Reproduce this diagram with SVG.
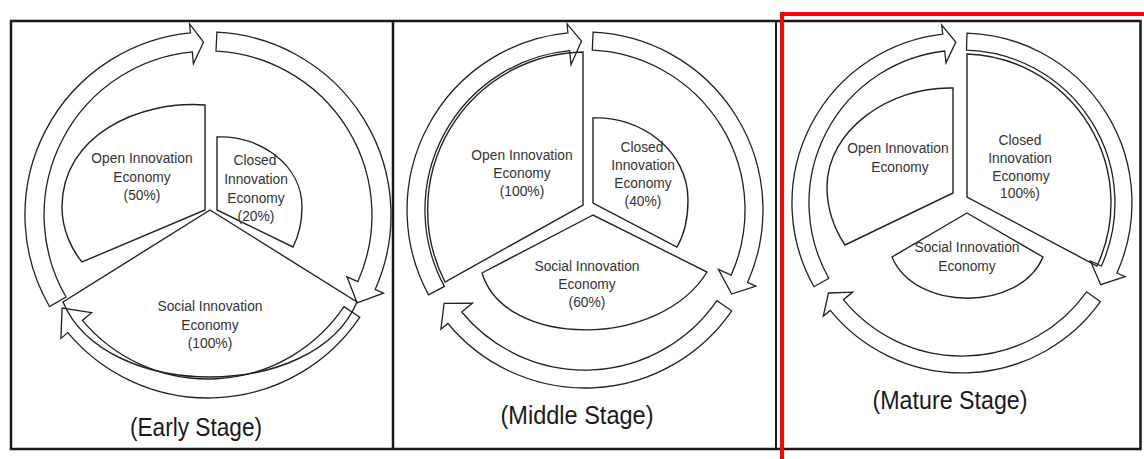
<svg xmlns="http://www.w3.org/2000/svg" width="1144" height="459" viewBox="0 0 1144 459">
<style>
.frame{fill:none;stroke:#1a1a1a;stroke-width:2.5}
.arrow{fill:#fff;stroke:#222;stroke-width:1.3;stroke-linejoin:miter}
.sector{fill:none;stroke:#222;stroke-width:1.4;stroke-linejoin:miter}
.lbl{font-family:"Liberation Sans",Arial,sans-serif;font-size:13.8px;fill:#333;text-anchor:middle}
.stage{font-family:"Liberation Sans",Arial,sans-serif;font-size:25px;fill:#1a1a1a;text-anchor:middle}
</style>
<rect width="1144" height="459" fill="#fff"/>
<g id="frames">
<rect class="frame" x="11" y="21" width="1129.5" height="428"/>
<line class="frame" x1="393" y1="21" x2="393" y2="449"/>
<line class="frame" x1="776" y1="21" x2="776" y2="449" style="stroke-width:2"/>
</g>
<g id="connectors">
<path class="arrow" d="M 49.5,306.5 A 183 183 0 0 1 190.5,32.8 L 189.6,23.9 L 203.5,42.1 L 193.4,63.7 L 192.3,51.8 A 164 164 0 0 0 66,297 Z"/>
<path class="arrow" d="M 216.9,32.2 A 183 183 0 0 1 375.2,289.4 L 383.4,293.1 L 357.1,302.8 L 346.9,276.8 L 357.8,281.7 A 164 164 0 0 0 216,51.2 Z"/>
<path class="arrow" d="M 359.7,317.3 A 183 183 0 0 1 67.8,332.6 L 60.9,338.4 L 62.1,308 L 91.6,312.7 L 82.4,320.4 A 164 164 0 0 0 344,306.7 Z"/>
<path class="arrow" d="M 428.6,294.9 A 178 178 0 0 1 567.9,32.8 L 567.1,23.9 L 581.5,41 L 571,64.7 L 569.7,50.7 A 160 160 0 0 0 444.4,286.4 Z"/>
<path class="arrow" d="M 593.1,32.2 A 178 178 0 0 1 747.6,282.4 L 755.8,286.1 L 731.7,294 L 718.4,269.4 L 731.2,275.1 A 160 160 0 0 0 592.3,50.2 Z"/>
<path class="arrow" d="M 731.7,310.8 A 178 178 0 0 1 447.9,323.5 L 440.9,329.2 L 444.1,303.3 L 472.5,303.1 L 461.7,312 A 160 160 0 0 0 716.9,300.6 Z"/>
<path class="arrow" d="M 814,286.7 A 170 170 0 0 1 942.8,34.1 L 941.7,25.1 L 955.8,42.1 L 946,62.9 L 944.7,51 A 153 153 0 0 0 828.8,278.3 Z"/>
<path class="arrow" d="M 967,33.1 A 170 170 0 0 1 1116.9,273 L 1125.1,276.7 L 1100.7,284.7 L 1090.5,261 L 1101.4,266 A 153 153 0 0 0 966.5,50.1 Z"/>
<path class="arrow" d="M 1100.4,301.7 A 170 170 0 0 1 830.3,310.4 L 823.3,316.1 L 828.5,293 L 852.7,292.1 L 843.4,299.7 A 153 153 0 0 0 1086.6,291.8 Z"/>
</g>
<g id="early-open">
<path class="sector" d="M 205,210 L 205,105 C 140,100 62,135 62,207 C 62,230 72,250 82,262 Z"/>
<text class="lbl" x="142" y="163">Open Innovation</text>
<text class="lbl" x="142" y="182">Economy</text>
<text class="lbl" x="142" y="200">(50%)</text>
</g>
<g id="early-closed">
<path class="sector" d="M 217,210 L 217,137 C 260,135 302,165 302,207 C 302,222 299,235 293,247 Z"/>
<text class="lbl" x="255" y="165">Closed</text>
<text class="lbl" x="256" y="184">Innovation</text>
<text class="lbl" x="256" y="203">Economy</text>
<text class="lbl" x="256" y="221">(20%)</text>
</g>
<g id="early-social">
<path class="sector" d="M 210,210 L 63,302 C 105,402 315,402 357,302 Z"/>
<text class="lbl" x="210" y="311">Social Innovation</text>
<text class="lbl" x="210" y="330">Economy</text>
<text class="lbl" x="210" y="348">(100%)</text>
</g>
<g id="middle-open">
<path class="sector" d="M 583,205 L 583,52 A 158 158 0 0 0 445,282 Z"/>
<text class="lbl" x="522" y="160">Open Innovation</text>
<text class="lbl" x="522" y="178">Economy</text>
<text class="lbl" x="522" y="196">(100%)</text>
</g>
<g id="middle-closed">
<path class="sector" d="M 593,203 L 593,118 C 640,116 688,150 688,200 C 688,220 684,235 677,247 Z"/>
<text class="lbl" x="642" y="152">Closed</text>
<text class="lbl" x="643" y="170">Innovation</text>
<text class="lbl" x="643" y="188">Economy</text>
<text class="lbl" x="643" y="206">(40%)</text>
</g>
<g id="middle-social">
<path class="sector" d="M 593,215 L 482,273 C 505,349 660,349 707,272 Z"/>
<text class="lbl" x="587" y="271">Social Innovation</text>
<text class="lbl" x="587" y="289">Economy</text>
<text class="lbl" x="587" y="307">(60%)</text>
</g>
<g id="mature-open">
<path class="sector" d="M 953,193 L 953,88 C 890,86 827,130 827,187 C 827,210 835,230 845,245 Z"/>
<text class="lbl" x="898" y="153">Open Innovation</text>
<text class="lbl" x="900" y="172">Economy</text>
</g>
<g id="mature-closed">
<path class="sector" d="M 967,197 L 967,54 A 149 149 0 0 1 1097,266 Z"/>
<text class="lbl" x="1020" y="145">Closed</text>
<text class="lbl" x="1020" y="163">Innovation</text>
<text class="lbl" x="1021" y="181">Economy</text>
<text class="lbl" x="1020" y="198">100%)</text>
</g>
<g id="mature-social">
<path class="sector" d="M 967,213 L 892,257 C 915,312 1020,312 1043,257 Z"/>
<text class="lbl" x="967" y="252">Social Innovation</text>
<text class="lbl" x="967" y="271">Economy</text>
</g>
<g id="stage-labels">
<text class="stage" x="196" y="436" textLength="132" lengthAdjust="spacingAndGlyphs">(Early Stage)</text>
<text class="stage" x="577" y="424" textLength="153" lengthAdjust="spacingAndGlyphs">(Middle Stage)</text>
<text class="stage" x="950" y="409" textLength="155" lengthAdjust="spacingAndGlyphs">(Mature Stage)</text>
</g>
<g id="highlight">
<polyline points="782,459 782,14 1144,14" fill="none" stroke="#ff0000" stroke-width="4"/>
</g>
</svg>
